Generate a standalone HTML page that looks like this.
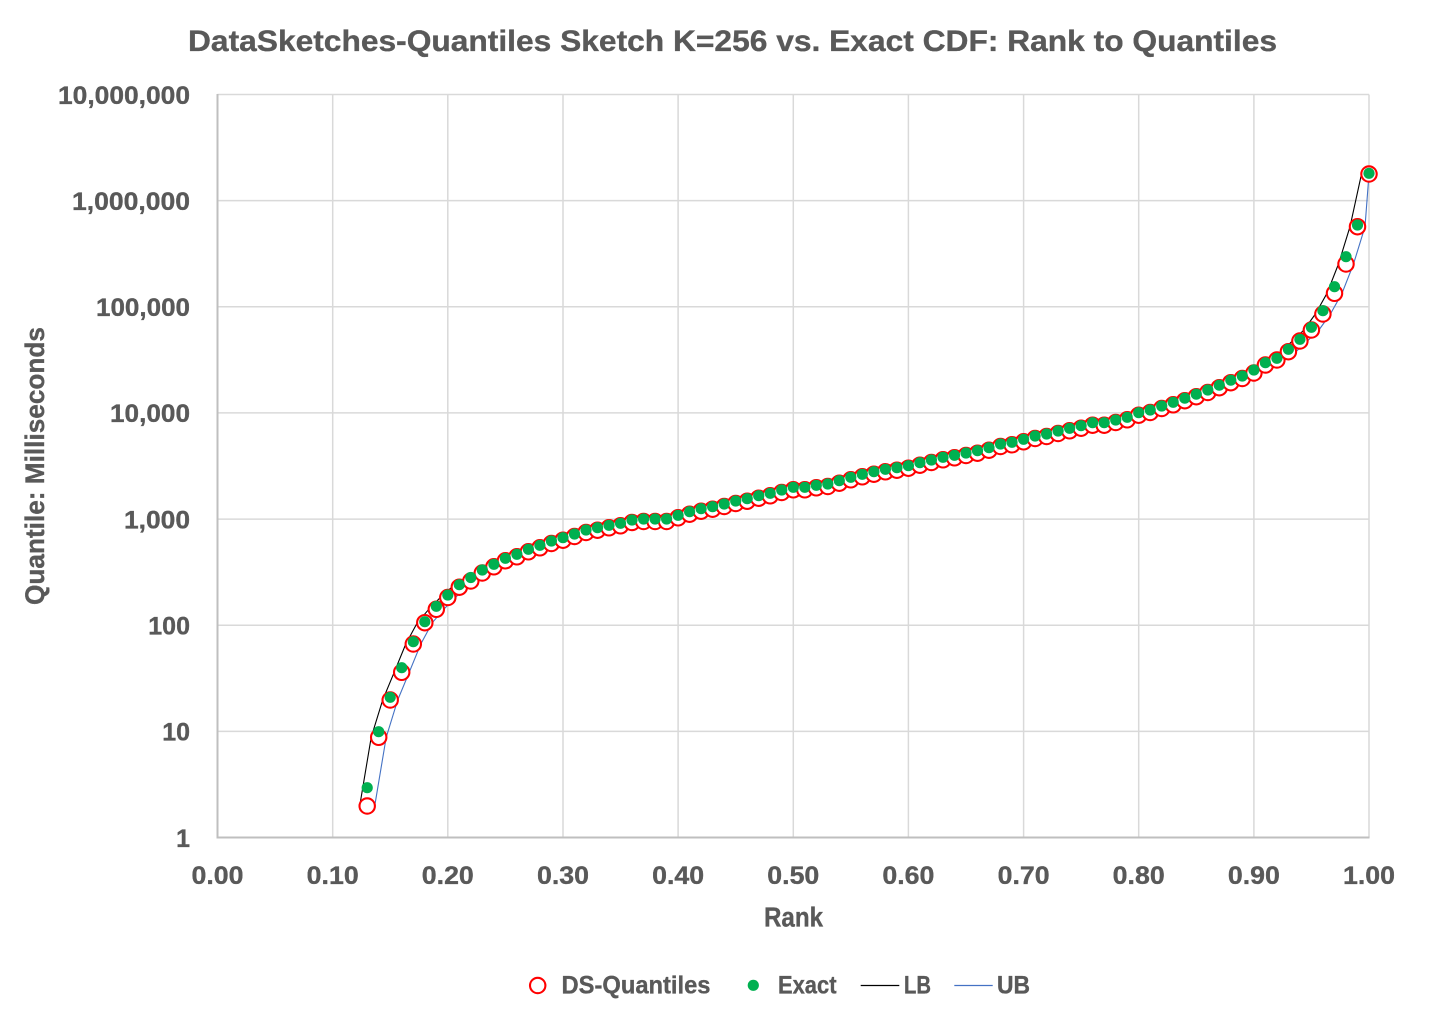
<!DOCTYPE html>
<html><head><meta charset="utf-8"><style>
html,body{margin:0;padding:0;background:#fff;}
svg{display:block;}
text{font-family:"Liberation Sans",Arial,sans-serif;font-weight:bold;fill:#595959;stroke:#595959;stroke-width:0.35;}
</style></head><body>
<svg width="1431" height="1018" viewBox="0 0 1431 1018" xmlns="http://www.w3.org/2000/svg">
<defs>
<marker id="mr" markerWidth="20" markerHeight="20" refX="10" refY="10" markerUnits="userSpaceOnUse" overflow="visible"><circle cx="10" cy="10" r="7.7" fill="#fff" stroke="#FF0000" stroke-width="2.1"/></marker>
<marker id="mg" markerWidth="20" markerHeight="20" refX="10" refY="10" markerUnits="userSpaceOnUse" overflow="visible"><circle cx="10" cy="10" r="5.6" fill="#00B050" stroke="none"/></marker>
</defs>
<rect width="1431" height="1018" fill="#fff"/>
<text x="188" y="51" font-size="30" textLength="1089" lengthAdjust="spacingAndGlyphs">DataSketches-Quantiles Sketch K=256 vs. Exact CDF: Rank to Quantiles</text>
<path fill="none" stroke="#D9D9D9" stroke-width="1.5" d="M217.5 94.5H1369M217.5 200.6H1369M217.5 306.8H1369M217.5 412.9H1369M217.5 519.1H1369M217.5 625.2H1369M217.5 731.4H1369M332.7 94.5V837.5M447.8 94.5V837.5M563 94.5V837.5M678.1 94.5V837.5M793.3 94.5V837.5M908.4 94.5V837.5M1023.6 94.5V837.5M1138.7 94.5V837.5M1253.9 94.5V837.5M1369 94.5V837.5"/>
<path fill="none" stroke="#BFBFBF" stroke-width="2" d="M217.5 94V838.5M216.5 837.5H1369.5"/>
<g font-size="25" text-anchor="end">
<text x="190" y="103.8" textLength="132" lengthAdjust="spacingAndGlyphs">10,000,000</text>
<text x="190" y="209.9" textLength="118" lengthAdjust="spacingAndGlyphs">1,000,000</text>
<text x="190" y="316.1" textLength="94" lengthAdjust="spacingAndGlyphs">100,000</text>
<text x="190" y="422.2" textLength="80" lengthAdjust="spacingAndGlyphs">10,000</text>
<text x="190" y="528.4" textLength="66" lengthAdjust="spacingAndGlyphs">1,000</text>
<text x="190" y="634.5">100</text>
<text x="190" y="740.7">10</text>
<text x="190" y="846.8">1</text>
</g>
<g font-size="25" text-anchor="middle">
<text x="217.5" y="884" textLength="52" lengthAdjust="spacingAndGlyphs">0.00</text>
<text x="332.7" y="884" textLength="52" lengthAdjust="spacingAndGlyphs">0.10</text>
<text x="447.8" y="884" textLength="52" lengthAdjust="spacingAndGlyphs">0.20</text>
<text x="563" y="884" textLength="52" lengthAdjust="spacingAndGlyphs">0.30</text>
<text x="678.1" y="884" textLength="52" lengthAdjust="spacingAndGlyphs">0.40</text>
<text x="793.3" y="884" textLength="52" lengthAdjust="spacingAndGlyphs">0.50</text>
<text x="908.4" y="884" textLength="52" lengthAdjust="spacingAndGlyphs">0.60</text>
<text x="1023.6" y="884" textLength="52" lengthAdjust="spacingAndGlyphs">0.70</text>
<text x="1138.7" y="884" textLength="52" lengthAdjust="spacingAndGlyphs">0.80</text>
<text x="1253.9" y="884" textLength="52" lengthAdjust="spacingAndGlyphs">0.90</text>
<text x="1369" y="884" textLength="52" lengthAdjust="spacingAndGlyphs">1.00</text>
</g>
<text x="764" y="926.5" font-size="28" textLength="59" lengthAdjust="spacingAndGlyphs">Rank</text>
<text transform="translate(44,466) rotate(-90)" x="0" y="0" font-size="27" text-anchor="middle" textLength="278" lengthAdjust="spacingAndGlyphs">Quantile: Milliseconds</text>
<polyline fill="none" stroke="#000" stroke-width="1.1" stroke-linejoin="round" points="359.7,806 371.2,737.3 382.7,700 394.2,672.3 405.8,644 417.3,622.7 428.8,609.3 440.3,597.5 451.8,587.2 463.3,581 474.8,573 486.4,566.8 497.9,560.8 509.4,556.8 520.9,551.8 532.4,547.8 543.9,543.5 555.5,540.2 567,536.5 578.5,532.5 590,530.2 601.5,527.8 613,525.8 624.5,522.5 636.1,521.5 647.6,521.5 659.1,521.5 670.6,517.8 682.1,514.2 693.6,511.2 705.1,509.2 716.7,506.5 728.2,503.5 739.7,501.2 751.2,498.2 762.7,495.8 774.2,492.5 785.8,489.8 797.3,489.8 808.8,487.8 820.3,486.5 831.8,483.2 843.3,479.8 854.8,476.8 866.4,474.2 877.9,471.8 889.4,470.2 900.9,468.2 912.4,465.2 923.9,462.5 935.5,459.8 947,457.8 958.5,455.5 970,453.2 981.5,450.2 993,446.5 1004.5,444.8 1016.1,441.8 1027.6,438.5 1039.1,436.5 1050.6,433.5 1062.1,430.8 1073.6,428.2 1085.1,425.2 1096.7,425.2 1108.2,422.5 1119.7,419.8 1131.2,415.2 1142.7,412.5 1154.2,408.5 1165.7,404.8 1177.3,400.7 1188.8,396.7 1200.3,392.5 1211.8,387.7 1223.3,382.7 1234.8,378.5 1246.4,373 1257.9,365 1269.4,360 1280.9,351.7 1292.4,341 1303.9,330 1315.4,314 1327,293.3 1338.5,264 1350,226.7 1361.5,174"/>
<polyline fill="none" stroke="#4472C4" stroke-width="1.1" stroke-linejoin="round" points="374.7,806 386.2,737.3 397.7,700 409.2,672.3 420.8,644 432.3,622.7 443.8,609.3 455.3,597.5 466.8,587.2 478.3,581 489.8,573 501.4,566.8 512.9,560.8 524.4,556.8 535.9,551.8 547.4,547.8 558.9,543.5 570.5,540.2 582,536.5 593.5,532.5 605,530.2 616.5,527.8 628,525.8 639.5,522.5 651.1,521.5 662.6,521.5 674.1,521.5 685.6,517.8 697.1,514.2 708.6,511.2 720.1,509.2 731.7,506.5 743.2,503.5 754.7,501.2 766.2,498.2 777.7,495.8 789.2,492.5 800.8,489.8 812.3,489.8 823.8,487.8 835.3,486.5 846.8,483.2 858.3,479.8 869.8,476.8 881.4,474.2 892.9,471.8 904.4,470.2 915.9,468.2 927.4,465.2 938.9,462.5 950.5,459.8 962,457.8 973.5,455.5 985,453.2 996.5,450.2 1008,446.5 1019.5,444.8 1031.1,441.8 1042.6,438.5 1054.1,436.5 1065.6,433.5 1077.1,430.8 1088.6,428.2 1100.1,425.2 1111.7,425.2 1123.2,422.5 1134.7,419.8 1146.2,415.2 1157.7,412.5 1169.2,408.5 1180.7,404.8 1192.3,400.7 1203.8,396.7 1215.3,392.5 1226.8,387.7 1238.3,382.7 1249.8,378.5 1261.4,373 1272.9,365 1284.4,360 1295.9,351.7 1307.4,341 1318.9,330 1330.4,314 1342,293.3 1353.5,264 1365,226.7 1369,174"/>
<polyline fill="none" stroke="none" marker-start="url(#mr)" marker-mid="url(#mr)" marker-end="url(#mr)" points="367.2,806 378.7,737.3 390.2,700 401.7,672.3 413.3,644 424.8,622.7 436.3,609.3 447.8,597.5 459.3,587.2 470.8,581 482.3,573 493.9,566.8 505.4,560.8 516.9,556.8 528.4,551.8 539.9,547.8 551.4,543.5 563,540.2 574.5,536.5 586,532.5 597.5,530.2 609,527.8 620.5,525.8 632,522.5 643.6,521.5 655.1,521.5 666.6,521.5 678.1,517.8 689.6,514.2 701.1,511.2 712.6,509.2 724.2,506.5 735.7,503.5 747.2,501.2 758.7,498.2 770.2,495.8 781.7,492.5 793.3,489.8 804.8,489.8 816.3,487.8 827.8,486.5 839.3,483.2 850.8,479.8 862.3,476.8 873.9,474.2 885.4,471.8 896.9,470.2 908.4,468.2 919.9,465.2 931.4,462.5 943,459.8 954.5,457.8 966,455.5 977.5,453.2 989,450.2 1000.5,446.5 1012,444.8 1023.6,441.8 1035.1,438.5 1046.6,436.5 1058.1,433.5 1069.6,430.8 1081.1,428.2 1092.6,425.2 1104.2,425.2 1115.7,422.5 1127.2,419.8 1138.7,415.2 1150.2,412.5 1161.7,408.5 1173.2,404.8 1184.8,400.7 1196.3,396.7 1207.8,392.5 1219.3,387.7 1230.8,382.7 1242.3,378.5 1253.9,373 1265.4,365 1276.9,360 1288.4,351.7 1299.9,341 1311.4,330 1322.9,314 1334.5,293.3 1346,264 1357.5,226.7 1369,174"/>
<polyline fill="none" stroke="none" marker-start="url(#mg)" marker-mid="url(#mg)" marker-end="url(#mg)" points="367.2,787.7 378.7,731.7 390.2,697.3 401.7,667.7 413.3,641.7 424.8,621.7 436.3,606.3 447.8,595 459.3,584.7 470.8,577.5 482.3,570 493.9,564.3 505.4,558.3 516.9,554.3 528.4,549.3 539.9,545.3 551.4,541 563,537.7 574.5,534 586,530 597.5,527.7 609,525.3 620.5,523.3 632,520 643.6,519 655.1,519 666.6,519 678.1,515.3 689.6,511.7 701.1,508.7 712.6,506.7 724.2,504 735.7,501 747.2,498.7 758.7,495.7 770.2,493.3 781.7,490 793.3,487.3 804.8,487.3 816.3,485.3 827.8,484 839.3,480.7 850.8,477.3 862.3,474.3 873.9,471.7 885.4,469.3 896.9,467.7 908.4,465.7 919.9,462.7 931.4,460 943,457.3 954.5,455.3 966,453 977.5,450.7 989,447.7 1000.5,444 1012,442.3 1023.6,439.3 1035.1,436 1046.6,434 1058.1,431 1069.6,428.3 1081.1,425.7 1092.6,422.7 1104.2,422.7 1115.7,420 1127.2,417.3 1138.7,412.7 1150.2,410 1161.7,406 1173.2,402.3 1184.8,398.2 1196.3,394.2 1207.8,390 1219.3,385.2 1230.8,380.2 1242.3,376 1253.9,370 1265.4,362.7 1276.9,358.3 1288.4,349.3 1299.9,339.3 1311.4,327.3 1322.9,310.7 1334.5,286.7 1346,256.7 1357.5,225 1369,173.3"/>
<circle cx="537.7" cy="985.5" r="7.7" fill="#fff" stroke="#FF0000" stroke-width="2.1"/>
<text x="561.5" y="993.5" font-size="25" textLength="149" lengthAdjust="spacingAndGlyphs">DS-Quantiles</text>
<circle cx="753.3" cy="985.3" r="5.6" fill="#00B050"/>
<text x="778" y="993.5" font-size="25" textLength="58.5" lengthAdjust="spacingAndGlyphs">Exact</text>
<line x1="860.7" y1="985.5" x2="899.3" y2="985.5" stroke="#000" stroke-width="1.2"/>
<text x="904" y="993.5" font-size="25" textLength="27" lengthAdjust="spacingAndGlyphs">LB</text>
<line x1="954.3" y1="985.5" x2="992.7" y2="985.5" stroke="#4472C4" stroke-width="1.2"/>
<text x="997" y="993.5" font-size="25" textLength="33" lengthAdjust="spacingAndGlyphs">UB</text>
</svg>
</body></html>
